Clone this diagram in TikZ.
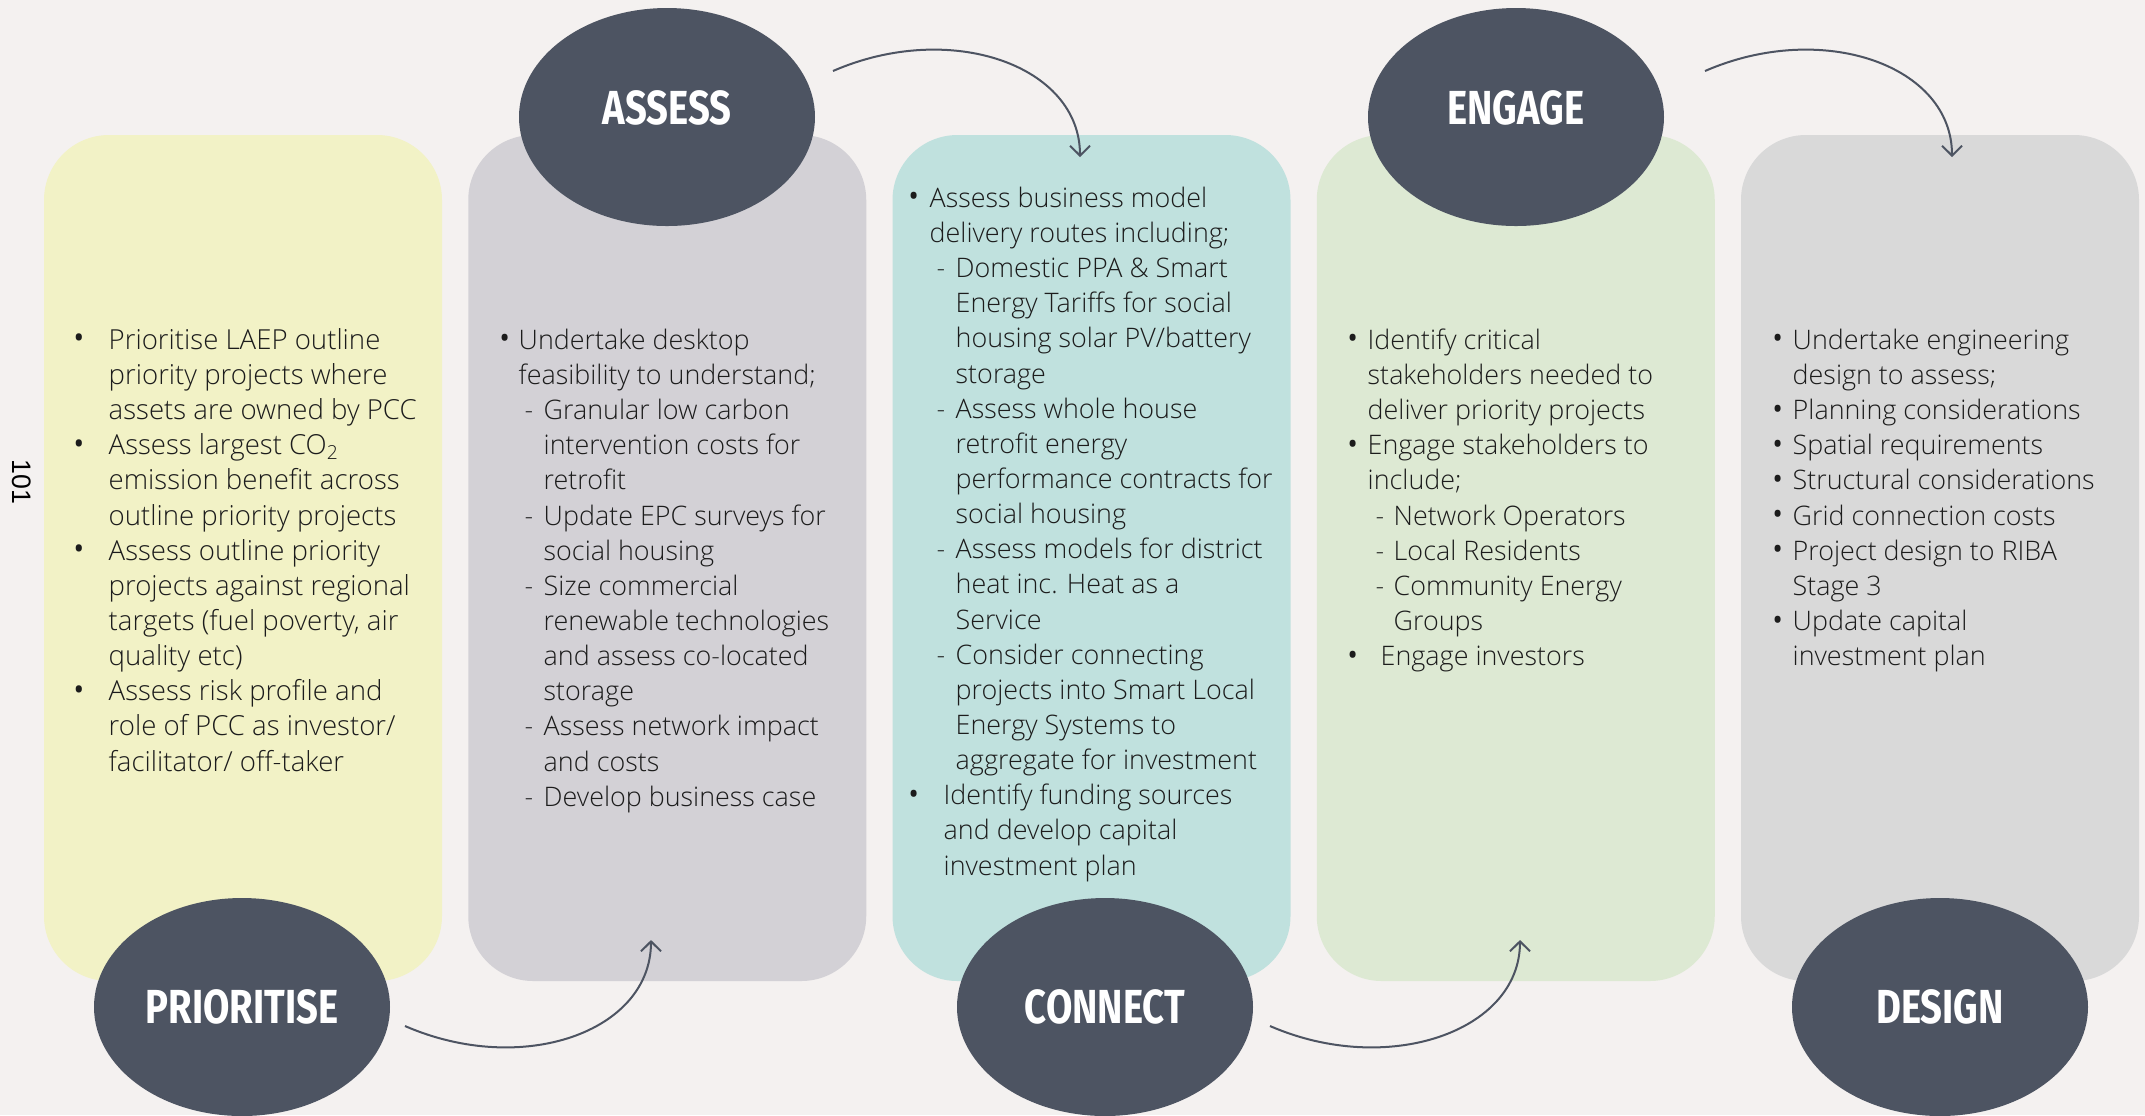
\documentclass[tikz,border=0pt]{standalone}
\usepackage{fontspec}
\IfFontExistsTF{Open Sans Light}{\setmainfont{Open Sans Light}}{\setmainfont{Open Sans}}
\newfontfamily\headfont[FakeStretch=0.8]{Fira Sans}
\newfontfamily\pagefont{Liberation Sans}
\usetikzlibrary{shapes.geometric,arrows.meta}

\definecolor{bgc}{HTML}{F4F1F0}
\definecolor{yelc}{HTML}{F2F2C6}
\definecolor{grayc}{HTML}{D3D1D6}
\definecolor{tealc}{HTML}{C0E1DE}
\definecolor{greenc}{HTML}{DDE9D3}
\definecolor{lgrayc}{HTML}{D9D9D9}
\definecolor{stagec}{HTML}{4D5462}
\definecolor{txtc}{HTML}{1C1C1C}

\tikzset{
  stage/.style={ellipse, fill=stagec, minimum width=29.6mm, minimum height=21.8mm,
    inner sep=0pt, text=white, font=\headfont\bfseries\fontsize{13.6}{14}\selectfont},
  stagetop/.style={stage, text height=3.3mm, text depth=1.8mm},
  steps/.style={anchor=north west, inner sep=0pt, align=left, text=txtc,
    font=\fontsize{7.65}{10}\selectfont},
  flow/.style={draw=stagec, line width=0.57pt, -{Straight Barb[length=2.8pt,width=5.7pt]}},
}
% lines of the lists
\newcommand{\firstln}{\rule{0pt}{7pt}}
\newcommand{\bl}[2]{\makebox[#1][l]{\raisebox{-1pt}{\scalebox{1.5}{\textbullet}}}#2}
\newcommand{\cl}[2]{\hspace*{#1}#2}
\newcommand{\dl}[3]{\makebox[#2][l]{\hspace*{#1}-}#3}

\begin{document}
\begin{tikzpicture}[x=0.1mm, y=-0.1mm]
  % 1. Nen va khung
  \useasboundingbox (0,0) rectangle (2145,1115);
  \fill[bgc] (0,0) rectangle (2145,1115);
  \node[rotate=-90, text=black, font=\pagefont\fontsize{7.6}{8}\selectfont] (pagenum) at (22,482) {101};

  % 2. Nam cot mau
  \foreach \i/\c in {0/yelc,1/grayc,2/tealc,3/greenc,4/lgrayc} {
    \fill[\c, rounded corners=6.5mm] (44+424.25*\i,135) rectangle ++(398,846);
  }

  % 3. Noi dung tung cot
  \node[steps, font=\fontsize{7.85}{10}\selectfont] (prioritiselist) at (71,324) {%
    \bl{3.7mm}{\firstln Prioritise LAEP outline}\\
    \cl{3.7mm}{priority projects where}\\
    \cl{3.7mm}{assets are owned by PCC}\\
    \bl{3.7mm}{Assess largest CO\textsubscript{2}}\\
    \cl{3.7mm}{emission benefit across}\\
    \cl{3.7mm}{outline priority projects}\\
    \bl{3.7mm}{Assess outline priority}\\
    \cl{3.7mm}{projects against regional}\\
    \cl{3.7mm}{targets (fuel poverty, air}\\
    \cl{3.7mm}{quality etc)}\\
    \bl{3.7mm}{Assess risk profile and}\\
    \cl{3.7mm}{role of PCC as investor/}\\
    \cl{3.7mm}{facilitator/ off-taker}};

  \node[steps] (assesslist) at (497,324) {%
    \bl{2.1mm}{\firstln Undertake desktop}\\
    \cl{2.1mm}{feasibility to understand;}\\
    \dl{2.7mm}{4.6mm}{Granular low carbon}\\
    \cl{4.6mm}{intervention costs for}\\
    \cl{4.6mm}{retrofit}\\
    \dl{2.7mm}{4.6mm}{Update EPC surveys for}\\
    \cl{4.6mm}{social housing}\\
    \dl{2.7mm}{4.6mm}{Size commercial}\\
    \cl{4.6mm}{renewable technologies}\\
    \cl{4.6mm}{and assess co-located}\\
    \cl{4.6mm}{storage}\\
    \dl{2.7mm}{4.6mm}{Assess network impact}\\
    \cl{4.6mm}{and costs}\\
    \dl{2.7mm}{4.6mm}{Develop business case}};

  \node[steps] (connectlist) at (906,182) {%
    \bl{2.3mm}{\firstln Assess business model}\\
    \cl{2.3mm}{delivery routes including;}\\
    \dl{3.0mm}{4.9mm}{Domestic PPA \& Smart}\\
    \cl{4.9mm}{Energy Tariffs for social}\\
    \cl{4.9mm}{housing solar PV/battery}\\
    \cl{4.9mm}{storage}\\
    \dl{3.0mm}{4.9mm}{Assess whole house}\\
    \cl{4.9mm}{retrofit energy}\\
    \cl{4.9mm}{performance contracts for}\\
    \cl{4.9mm}{social housing}\\
    \dl{3.0mm}{4.9mm}{Assess models for district}\\
    \cl{4.9mm}{heat inc. Heat as a}\\
    \cl{4.9mm}{Service}\\
    \dl{3.0mm}{4.9mm}{Consider connecting}\\
    \cl{4.9mm}{projects into Smart Local}\\
    \cl{4.9mm}{Energy Systems to}\\
    \cl{4.9mm}{aggregate for investment}\\
    \bl{3.7mm}{Identify funding sources}\\
    \cl{3.7mm}{and develop capital}\\
    \cl{3.7mm}{investment plan}};

  \node[steps] (engagelist) at (1345,324) {%
    \bl{2.2mm}{\firstln Identify critical}\\
    \cl{2.2mm}{stakeholders needed to}\\
    \cl{2.2mm}{deliver priority projects}\\
    \bl{2.2mm}{Engage stakeholders to}\\
    \cl{2.2mm}{include;}\\
    \dl{3.0mm}{4.8mm}{Network Operators}\\
    \dl{3.0mm}{4.8mm}{Local Residents}\\
    \dl{3.0mm}{4.8mm}{Community Energy}\\
    \cl{4.8mm}{Groups}\\
    \bl{3.5mm}{Engage investors}};

  \node[steps] (designlist) at (1770,324) {%
    \bl{2.2mm}{\firstln Undertake engineering}\\
    \cl{2.2mm}{design to assess;}\\
    \bl{2.2mm}{Planning considerations}\\
    \bl{2.2mm}{Spatial requirements}\\
    \bl{2.2mm}{Structural considerations}\\
    \bl{2.2mm}{Grid connection costs}\\
    \bl{2.2mm}{Project design to RIBA}\\
    \cl{2.2mm}{Stage 3}\\
    \bl{2.2mm}{Update capital}\\
    \cl{2.2mm}{investment plan}};

  % 4. Cac buoc (hinh elip)
  \node[stage] (prioritise) at (242,1007) {PRIORITISE};
  \node[stagetop] (assess) at (667,117) {ASSESS};
  \node[stage] (connect) at (1105,1007) {CONNECT};
  \node[stagetop] (engage) at (1516,117) {ENGAGE};
  \node[stage] (design) at (1940,1007) {DESIGN};

  % 5. Mui ten cong
  \coordinate (flowAa) at (405,1026);  \coordinate (flowAb) at (651,940);
  \coordinate (flowBa) at (833,71);    \coordinate (flowBb) at (1080,157);
  \coordinate (flowCa) at (1270,1026); \coordinate (flowCb) at (1520,940);
  \coordinate (flowDa) at (1705,71);   \coordinate (flowDb) at (1952,157);
  \draw[flow] (flowAa) .. controls (522,1077) and (651,1032) .. (flowAb);
  \draw[flow] (flowBa) .. controls (950,20) and (1080,65) .. (flowBb);
  \draw[flow] (flowCa) .. controls (1387,1077) and (1520,1032) .. (flowCb);
  \draw[flow] (flowDa) .. controls (1822,20) and (1952,65) .. (flowDb);
\end{tikzpicture}
\end{document}
